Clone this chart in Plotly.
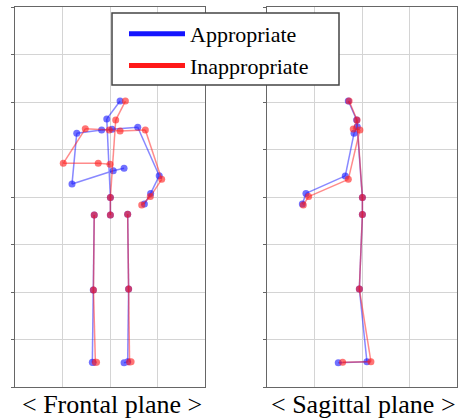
import plotly.graph_objects as go

# ---------------- data (metres) ----------------
frontal_joints = ["head", "neck", "sh_l", "clav_l", "clav_r", "sh_r",
                  "elb_l", "wr_l", "hand_l", "elb_r", "wr_r", "hand_r",
                  "spine_base", "hip_c", "hip_l", "knee_l", "ank_l", "foot_l",
                  "hip_r", "knee_r", "ank_r", "foot_r"]
frontal_edges = [("head", "neck"), ("neck", "spine_base"), ("spine_base", "hip_c"),
                 ("sh_l", "clav_l"), ("clav_l", "clav_r"), ("clav_r", "sh_r"),
                 ("sh_l", "elb_l"), ("elb_l", "wr_l"), ("wr_l", "hand_l"),
                 ("sh_r", "elb_r"), ("elb_r", "wr_r"), ("wr_r", "hand_r"),
                 ("hip_l", "knee_l"), ("knee_l", "ank_l"), ("ank_l", "foot_l"),
                 ("hip_r", "knee_r"), ("knee_r", "ank_r"), ("ank_r", "foot_r")]

frontal_app_x = [0.053, -0.017, -0.175, -0.044, 0.011, 0.146,
                 -0.200, 0.017, 0.074, 0.259, 0.214, 0.181,
                 0.002, 0.002, -0.083, -0.088, -0.093, -0.089,
                 0.093, 0.098, 0.093, 0.074]
frontal_app_y = [1.505, 1.411, 1.335, 1.353, 1.356, 1.367,
                 1.068, 1.138, 1.151, 1.112, 1.019, 0.963,
                 0.998, 0.905, 0.905, 0.511, 0.130, 0.129,
                 0.909, 0.516, 0.133, 0.128]
frontal_inapp_x = [0.081, 0.030, -0.130, -0.004, 0.053, 0.186,
                   -0.246, -0.062, 0.000, 0.272, 0.212, 0.167,
                   0.002, 0.002, -0.083, -0.087, -0.077, -0.071,
                   0.093, 0.098, 0.103, 0.111]
frontal_inapp_y = [1.505, 1.405, 1.359, 1.353, 1.347, 1.353,
                   1.177, 1.177, 1.172, 1.093, 1.002, 0.958,
                   0.998, 0.905, 0.905, 0.511, 0.130, 0.130,
                   0.909, 0.516, 0.132, 0.133]

sagittal_joints = ["head", "neck", "sh_a", "sh_b", "elb", "wr", "hand",
                   "spine_base", "hip", "knee", "ank", "toe"]
sagittal_edges = [("head", "neck"), ("neck", "sh_a"), ("sh_a", "sh_b"),
                  ("neck", "spine_base"), ("spine_base", "hip"),
                  ("sh_b", "elb"), ("elb", "wr"), ("wr", "hand"),
                  ("hip", "knee"), ("knee", "ank"), ("ank", "toe")]

sagittal_app_x = [-0.072, -0.028, -0.025, -0.042, -0.088, -0.295, -0.314,
                  0.002, 0.002, -0.014, 0.026, -0.125]
sagittal_app_y = [1.505, 1.405, 1.370, 1.335, 1.111, 1.019, 0.963,
                  0.998, 0.908, 0.516, 0.133, 0.128]
sagittal_inapp_x = [-0.068, -0.026, -0.046, -0.011, -0.072, -0.281, -0.309,
                    0.002, 0.002, -0.014, 0.047, -0.102]
sagittal_inapp_y = [1.505, 1.405, 1.358, 1.353, 1.093, 1.002, 0.958,
                    0.998, 0.908, 0.516, 0.133, 0.130]

series_names = ["Appropriate", "Inappropriate"]
series_colors = ["rgb(20,20,255)", "rgb(255,25,25)"]
panel_titles = ["< Frontal plane >", "< Sagittal plane >"]

# ---------------- figure ----------------
def segments(joints, edges, xs, ys):
    idx = {j: i for i, j in enumerate(joints)}
    sx, sy = [], []
    for a, b in edges:
        sx += [xs[idx[a]], xs[idx[b]], None]
        sy += [ys[idx[a]], ys[idx[b]], None]
    return sx, sy

fig = go.Figure()
panels = [
    ("x", "y", frontal_joints, frontal_edges,
     [(frontal_app_x, frontal_app_y), (frontal_inapp_x, frontal_inapp_y)]),
    ("x2", "y2", sagittal_joints, sagittal_edges,
     [(sagittal_app_x, sagittal_app_y), (sagittal_inapp_x, sagittal_inapp_y)]),
]
for xa, ya, joints, edges, data in panels:
    for (xs, ys), col in zip(data, series_colors):
        sx, sy = segments(joints, edges, xs, ys)
        fig.add_trace(go.Scatter(x=sx, y=sy, mode="lines", xaxis=xa, yaxis=ya,
                                 line=dict(color=col, width=1.5), opacity=0.5,
                                 showlegend=False, hoverinfo="skip"))
        fig.add_trace(go.Scatter(x=xs, y=ys, mode="markers", xaxis=xa, yaxis=ya,
                                 marker=dict(color=col, size=7, line=dict(width=0)),
                                 opacity=0.6, showlegend=False, hoverinfo="skip"))

for name, col in zip(series_names, series_colors):
    fig.add_trace(go.Scatter(x=[None], y=[None], mode="lines", name=name,
                             line=dict(color=col, width=5)))

W, H = 459, 418
axis_common = dict(showgrid=True, gridcolor="#d4d4d4", gridwidth=1,
                   showline=True, mirror=True, linecolor="#666666", linewidth=1,
                   zeroline=False, showticklabels=False, dtick=0.25, tick0=0,
                   fixedrange=True)
fig.update_layout(
    width=W, height=H,
    margin=dict(l=0, r=0, t=0, b=0, autoexpand=False),
    paper_bgcolor="white", plot_bgcolor="white",
    font=dict(family="Liberation Serif", color="black"),
    xaxis=dict(domain=[15 / W, 205 / W], range=[-0.5, 0.5], ticks="", anchor="y",
               **axis_common),
    yaxis=dict(domain=[31 / H, 411 / H], range=[0, 2], ticks="outside", ticklen=3,
               tickcolor="#666666", anchor="x", **axis_common),
    xaxis2=dict(domain=[267 / W, 457 / W], range=[-0.5, 0.5], ticks="", anchor="y2",
                **axis_common),
    yaxis2=dict(domain=[31 / H, 411 / H], range=[0, 2], ticks="outside", ticklen=3,
                tickcolor="#666666", anchor="x2", **axis_common),
    legend=dict(x=124 / W, y=(H - 13) / H, xanchor="left", yanchor="top",
                bgcolor="rgba(0,0,0,0)", borderwidth=0,
                font=dict(family="Liberation Serif", size=22, color="black"),
                itemwidth=56, tracegroupgap=0),
    showlegend=True,
    shapes=[dict(type="rect", xref="paper", yref="paper", layer="above",
                 x0=112 / W, x1=339 / W, y0=(H - 85) / H, y1=(H - 13) / H,
                 fillcolor="white", line=dict(color="#444444", width=1.5))],
)

for i, t in enumerate(panel_titles):
    cx = (112 if i == 0 else 363) / W
    fig.add_annotation(text=t, x=cx, y=(H - 404) / H, xref="paper", yref="paper",
                       xanchor="center", yanchor="middle", showarrow=False,
                       font=dict(family="Liberation Serif", size=26, color="black"))

fig.write_html("out.html", config={"displayModeBar": False},
               post_script="document.body.style.margin='0';")
